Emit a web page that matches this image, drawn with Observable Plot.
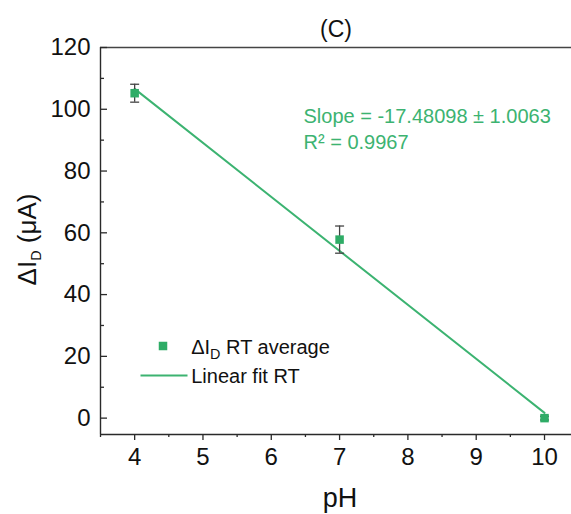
<!DOCTYPE html>
<html>
<head>
<meta charset="utf-8">
<script src="https://cdn.jsdelivr.net/npm/d3@7"></script>
<script src="https://cdn.jsdelivr.net/npm/@observablehq/plot@0.6"></script>
<style>
  html, body { margin: 0; padding: 0; background: #fff; }
  #chart { width: 571px; height: 514px; }
</style>
</head>
<body>
<div id="chart"></div>
<script>
// ---- data ----
const pH = [4, 7, 10];
const deltaID = [105.2, 57.8, 0];
const deltaIDErr = [2.9, 4.4, 0.6];
const fitX = [4, 10];
const fitY = [106.6, 1.7];
const xDomain = [3.5, 10.395];
const yDomain = [-5.3, 120];
const xMajor = [4, 5, 6, 7, 8, 9, 10];
const xMinor = [3.5, 4.5, 5.5, 6.5, 7.5, 8.5, 9.5];
const yMajor = [0, 20, 40, 60, 80, 100, 120];
const yMinor = [10, 30, 50, 70, 90, 110];
const titleText = "(C)";
const xLabel = "pH";
const yLabel = "ΔI_D (μA)";
const slopeText = "Slope = -17.48098 ± 1.0063";
const r2Text = "R² = 0.9967";
const legendPoints = "ΔI_D RT average";
const legendFit = "Linear fit RT";

const points = pH.map((x, i) => ({x, v: deltaID[i], e: deltaIDErr[i]}));
const fit = fitX.map((x, i) => ({x, y: fitY[i]}));

const W = 571, H = 514;
const mL = 100, mR = 0, mT = 47, mB = 80;
const fw = W - mL - mR, fh = H - mT - mB;
const green = "#3cb371";
const sqGreen = "#2eac66";
const axisCol = "#2a2a2a";
const hline = (w) => ({draw(ctx) { ctx.moveTo(-w, 0); ctx.lineTo(w, 0); }});
const T = {lineAnchor: "middle", fill: "#111"};

const chart = Plot.plot({
  width: W, height: H,
  marginLeft: mL, marginRight: mR, marginTop: mT, marginBottom: mB,
  x: {domain: xDomain},
  y: {domain: yDomain},
  style: {fontFamily: "'Liberation Sans', Arial, sans-serif", color: "#111", background: "#fff"},
  marks: [
    // frame lines
    Plot.ruleY([yDomain[1]], {stroke: "#444", strokeWidth: 1.4}),
    Plot.ruleY([yDomain[0]], {stroke: axisCol, strokeWidth: 1.4}),
    Plot.ruleX([xDomain[0]], {stroke: axisCol, strokeWidth: 1.4}),
    // x ticks (outward)
    Plot.tickX(xMajor, {x: d => d, insetTop: fh, insetBottom: -6, stroke: axisCol, strokeWidth: 1.3}),
    Plot.tickX(xMinor, {x: d => d, insetTop: fh, insetBottom: -3, stroke: axisCol, strokeWidth: 1.3}),
    Plot.axisX({ticks: xMajor, tickSize: 0, tickPadding: 13, fontSize: 24, label: null, tickFormat: d => String(d)}),
    // y ticks (inward)
    Plot.tickY(yMajor, {y: d => d, insetRight: fw - 7, stroke: axisCol, strokeWidth: 1.3}),
    Plot.tickY(yMinor, {y: d => d, insetRight: fw - 4, stroke: axisCol, strokeWidth: 1.3}),
    Plot.axisY({ticks: yMajor, tickSize: 0, tickPadding: 10, fontSize: 24, label: null, tickFormat: d => String(d)}),
    // fit line
    Plot.line(fit, {x: "x", y: "y", stroke: green, strokeWidth: 2}),
    // error bars
    Plot.ruleX(points, {x: "x", y1: d => d.v - d.e, y2: d => d.v + d.e, stroke: "#444", strokeWidth: 1.3}),
    Plot.dot(points, {x: "x", y: d => d.v + d.e, symbol: hline(4.5), stroke: "#444", strokeWidth: 1.3}),
    Plot.dot(points, {x: "x", y: d => d.v - d.e, symbol: hline(4.5), stroke: "#444", strokeWidth: 1.3}),
    // points
    Plot.dot(points, {x: "x", y: "v", symbol: "square", r: 4.8, fill: sqGreen, stroke: null}),
    // title and axis labels
    Plot.text([titleText], {...T, frameAnchor: "top", textAnchor: "middle", dy: -17.4, fontSize: 23}),
    Plot.text([xLabel], {...T, frameAnchor: "bottom", textAnchor: "middle", dx: 4, dy: 63.4, fontSize: 27}),
    Plot.text([yLabel], {...T, frameAnchor: "left", textAnchor: "middle", dx: -73, dy: -1.5, rotate: -90, fontSize: 26}),
    // annotation
    Plot.text([slopeText], {...T, frameAnchor: "top-left", textAnchor: "start", dx: 203, dy: 68.6, fontSize: 20, fill: green}),
    Plot.text([r2Text], {...T, frameAnchor: "top-left", textAnchor: "start", dx: 203, dy: 95.2, fontSize: 20, fill: green}),
    // legend
    Plot.dot([0], {frameAnchor: "top-left", dx: 62.5, dy: 298.5, symbol: "square", r: 4.8, fill: sqGreen, stroke: null}),
    Plot.text([legendPoints], {...T, frameAnchor: "top-left", textAnchor: "start", dx: 90.7, dy: 299.9, fontSize: 20}),
    Plot.dot([0], {frameAnchor: "top-left", dx: 63.5, dy: 328, symbol: hline(23.5), stroke: green, strokeWidth: 2}),
    Plot.text([legendFit], {...T, frameAnchor: "top-left", textAnchor: "start", dx: 90.7, dy: 328.6, fontSize: 20})
  ]
});

// subscripts: replace "I_D" with I + subscript D
chart.querySelectorAll("text").forEach(t => {
  const s = t.textContent;
  if (!s.includes("_D")) return;
  const [a, b] = s.split("_D");
  const fs = parseFloat(t.getAttribute("font-size") || getComputedStyle(t).fontSize) || 20;
  t.textContent = "";
  const sel = d3.select(t);
  sel.append("tspan").text(a);
  sel.append("tspan").attr("dy", (fs * 0.28).toFixed(1)).attr("font-size", (fs * 0.72).toFixed(1)).text("D");
  sel.append("tspan").attr("dy", (-fs * 0.28).toFixed(1)).text(b);
});

document.getElementById("chart").appendChild(chart);
</script>
</body>
</html>
